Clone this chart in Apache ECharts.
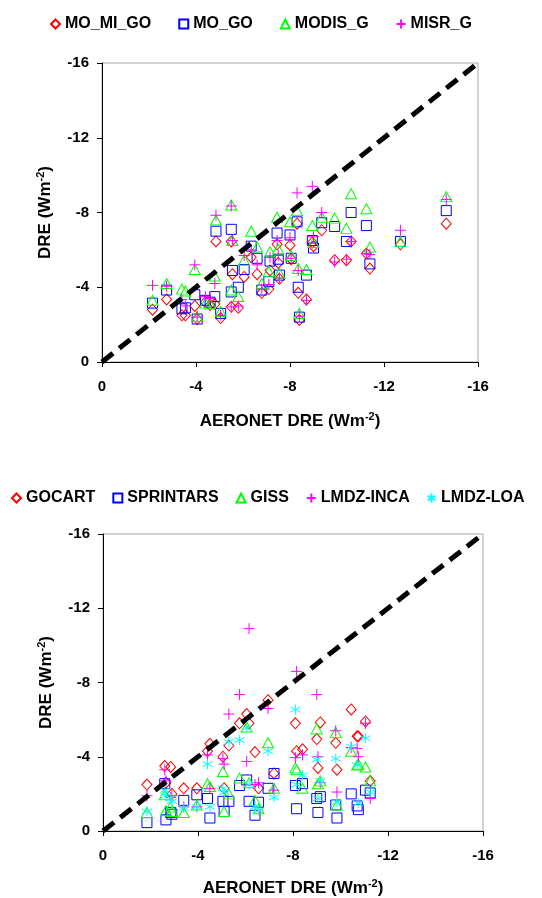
<!DOCTYPE html>
<html>
<head>
<meta charset="utf-8">
<script src="https://cdn.jsdelivr.net/npm/echarts@6/dist/echarts.min.js"></script>
<style>
html,body{margin:0;padding:0;background:#fff;}
#c{width:542px;height:898px;}
</style>
</head>
<body>
<div id="c"></div>
<script>
// ---------- data ----------
const tickValues = [0, -4, -8, -12, -16];
const diagonal = [0, -16];

// Top panel: AERONET DRE per site and the four satellite-based estimates
const topX     = [-2.15,-2.75,-3.4,-3.55,-3.95,-4.05,-4.4,-4.6,-4.8,-4.85,-5.05,-5.5,-5.55,-5.5,-5.8,-6.05,-6.35,-6.6,-6.8,-7.1,-7.15,-7.45,-7.5,-7.55,-8.0,-8.05,-8.3,-8.35,-8.4,-8.7,-8.95,-9.0,-9.35,-9.9,-10.4,-10.6,-11.25,-11.4,-12.7,-14.65];
const moMiGo   = [-2.8,-3.35,-2.5,-2.5,-3.0,-2.3,-3.2,-3.05,-3.1,-6.45,-2.35,-6.45,-4.7,-2.95,-2.9,-4.55,-5.6,-4.7,-3.7,-3.9,-4.9,-6.3,-5.3,-4.45,-6.25,-5.5,-7.4,-3.7,-2.25,-3.35,-6.4,-6.2,-7.05,-5.45,-5.45,-6.45,-5.8,-5.0,-6.3,-7.4];
const moGo     = [-3.15,-3.85,-2.85,-2.9,-3.6,-2.3,-3.3,-3.2,-3.5,-7.0,-2.6,-7.1,-4.9,-3.75,-4.0,-4.95,-6.2,-5.55,-3.85,-4.3,-5.4,-6.9,-5.5,-4.65,-6.8,-5.55,-7.5,-4.0,-2.4,-4.65,-6.5,-6.1,-7.45,-7.25,-6.45,-8.0,-7.3,-5.25,-6.45,-8.1];
const modisG   = [-3.3,-4.2,-3.9,-3.8,-4.95,-2.45,-3.15,-3.1,-4.6,-7.6,-2.7,-8.4,-6.5,-3.85,-3.5,-5.45,-7.0,-6.15,-4.2,-4.85,-5.9,-7.75,-6.05,-4.75,-7.5,-5.7,-8.1,-5.0,-2.6,-4.95,-7.3,-6.4,-7.75,-7.7,-7.15,-9.0,-8.2,-6.15,-6.45,-8.85];
const misrG    = [-4.1,-4.05,-3.35,-3.0,-5.2,-2.4,-3.5,-3.4,-4.2,-7.85,-2.5,-8.35,-6.5,-2.95,-3.0,-5.7,-6.0,-5.2,-3.9,-4.15,-5.6,-6.5,-5.7,-4.5,-6.65,-5.55,-9.05,-4.9,-2.45,-3.3,-9.4,-6.7,-8.0,-5.35,-5.5,-6.45,-5.8,-5.75,-7.05,-8.7];

// Bottom panel: AERONET DRE per site and the five model estimates
const botX     = [-1.85,-2.6,-2.65,-2.85,-2.9,-3.4,-3.95,-4.4,-4.5,-5.05,-5.1,-5.3,-5.75,-6.05,-6.15,-6.4,-6.55,-6.95,-7.2,-8.1,-8.15,-8.4,-9.0,-9.05,-9.15,-9.8,-9.85,-10.45,-10.7,-10.75,-11.05,-11.25];
const gocart   = [-2.5,-3.5,-2.6,-3.45,-2.0,-2.3,-2.3,-4.3,-4.7,-4.0,-2.3,-4.6,-5.8,-6.3,-5.8,-4.25,-2.3,-7.05,-3.1,-5.8,-4.3,-4.4,-4.95,-3.4,-5.85,-4.75,-3.3,-6.55,-5.1,-5.1,-5.9,-2.7];
const sprintars= [-0.45,-2.55,-0.6,-1.0,-0.9,-1.65,-1.95,-1.75,-0.7,-1.6,-1.05,-1.6,-2.45,-2.75,-1.6,-0.85,-1.55,-2.3,-3.1,-2.45,-1.2,-2.55,-1.75,-1.0,-1.85,-1.4,-0.7,-2.0,-1.35,-1.15,-2.2,-2.05];
const giss     = [-1.0,-1.95,-1.1,-1.3,-1.05,-1.0,-1.4,-2.55,-2.4,-3.2,-1.05,-2.0,-2.85,-5.6,-2.6,-1.65,-1.2,-4.75,-2.3,-3.4,-3.3,-2.3,-5.5,-2.55,-2.7,-5.3,-1.4,-4.3,-3.55,-3.6,-3.45,-2.7];
const lmdzInca = [-1.9,-3.3,-2.7,-1.8,-1.9,-1.3,-1.3,-4.1,-2.3,-3.9,-3.6,-6.3,-7.35,-3.75,-10.9,-2.5,-2.6,-6.6,-2.2,-3.95,-8.6,-4.1,-7.35,-4.0,-2.6,-5.4,-2.1,-4.5,-4.45,-4.0,-5.8,-1.75];
const lmdzLoa  = [-1.05,-2.2,-1.9,-1.75,-1.6,-1.25,-1.3,-3.6,-1.3,-2.3,-2.1,-4.8,-4.9,-5.55,-2.5,-1.3,-1.1,-4.3,-1.8,-6.55,-2.5,-3.0,-3.85,-1.75,-2.7,-3.9,-1.55,-4.55,-3.55,-1.5,-5.0,-2.1];

const topSeries = [
  {name:'MO_MI_GO', vals: moMiGo, sym:'diamond', size:[10,11], color:'#ff0000'},
  {name:'MO_GO', vals: moGo, sym:'rect', size:[10,10], color:'#0000ff'},
  {name:'MODIS_G', vals: modisG, sym:'triangle', size:[11,10], color:'#00ff00'},
  {name:'MISR_G', vals: misrG, sym:'path://M5,0L5,10M0,5L10,5', size:[11,11], color:'#ff00ff'}
];
const botSeries = [
  {name:'GOCART', vals: gocart, sym:'diamond', size:[10,11], color:'#ff0000'},
  {name:'SPRINTARS', vals: sprintars, sym:'rect', size:[10,10], color:'#0000ff'},
  {name:'GISS', vals: giss, sym:'triangle', size:[11,10], color:'#00ff00'},
  {name:'LMDZ-INCA', vals: lmdzInca, sym:'path://M5,0L5,10M0,5L10,5', size:[11,11], color:'#ff00ff'},
  {name:'LMDZ-LOA', vals: lmdzLoa, sym:'path://M5,0L5,10M0.7,2.5L9.3,7.5M0.7,7.5L9.3,2.5', size:[10,10], color:'#00ffff'}
];

// ---------- chart ----------
const FONT = '"Liberation Sans", Arial, sans-serif';
const tmin = Math.min(...tickValues), tmax = Math.max(...tickValues);
const tint = Math.abs(tickValues[1] - tickValues[0]);

function nameRich() {
  return {
    n: {fontSize: 17, fontWeight: 'bold', fontFamily: FONT, color: '#000', lineHeight: 20},
    s: {fontSize: 11, fontWeight: 'bold', fontFamily: FONT, color: '#000', lineHeight: 12, verticalAlign: 'top'}
  };
}
function xAxis(gi, gap) {
  return {
    gridIndex: gi, type: 'value', min: tmin, max: tmax, interval: tint, inverse: true,
    splitLine: {show: false},
    axisLine: {show: true, onZero: false, lineStyle: {color: '#000', width: 1}},
    axisTick: {show: true, length: 5, lineStyle: {color: '#000'}},
    axisLabel: {fontSize: 15, fontWeight: 'bold', fontFamily: FONT, color: '#000', margin: 17},
    name: '{n|AERONET DRE (Wm}{s|-2}{n|)}', nameLocation: 'middle', nameGap: gap,
    nameTextStyle: {rich: nameRich()}
  };
}
function yAxis(gi) {
  return {
    gridIndex: gi, type: 'value', min: tmin, max: tmax, interval: tint, inverse: true,
    splitLine: {show: false},
    axisLine: {show: true, onZero: false, lineStyle: {color: '#000', width: 1}},
    axisTick: {show: true, length: 5, lineStyle: {color: '#000'}},
    axisLabel: {fontSize: 15, fontWeight: 'bold', fontFamily: FONT, color: '#000', margin: 13},
    name: '{n|DRE (Wm}{s|-2}{n|)}', nameLocation: 'middle', nameGap: 47, nameRotate: 90,
    nameTextStyle: {rich: nameRich()}
  };
}
function scatter(def, xs, gi) {
  return {
    type: 'scatter', name: def.name, xAxisIndex: gi, yAxisIndex: gi,
    symbol: def.sym, symbolSize: def.size,
    itemStyle: {color: 'rgba(0,0,0,0)', borderColor: def.color, borderWidth: 1, opacity: 1},
    emphasis: {disabled: true},
    data: xs.map((x, i) => [x, def.vals[i]])
  };
}
function diag(gi) {
  return {
    type: 'line', xAxisIndex: gi, yAxisIndex: gi, symbol: 'none', silent: true, z: 5,
    lineStyle: {color: '#000', width: 5, type: [14, 8]},
    data: diagonal.map(v => [v, v])
  };
}

const series = [];
topSeries.forEach(d => series.push(scatter(d, topX, 0)));
botSeries.forEach(d => series.push(scatter(d, botX, 1)));
series.push(diag(0));
series.push(diag(1));

const legendText = {fontSize: 16, fontWeight: 'bold', fontFamily: FONT, color: '#000'};
const option = {
  animation: false,
  backgroundColor: '#fff',
  legend: [
    {data: topSeries.map(d => d.name), left: 45, top: 11, itemWidth: 9, itemHeight: 9, itemGap: 27, textStyle: legendText},
    {data: botSeries.map(d => d.name), left: 6, top: 485, itemWidth: 9, itemHeight: 9, itemGap: 17, textStyle: legendText}
  ],
  grid: [
    {left: 102, top: 63, width: 376, height: 299, show: true, borderColor: '#a6a6a6', borderWidth: 1, backgroundColor: 'transparent'},
    {left: 103, top: 534, width: 380, height: 297, show: true, borderColor: '#a6a6a6', borderWidth: 1, backgroundColor: 'transparent'}
  ],
  xAxis: [xAxis(0, 49), xAxis(1, 47)],
  yAxis: [yAxis(0), yAxis(1)],
  series: series
};
const chart = echarts.init(document.getElementById('c'), null, {renderer: 'canvas'});
chart.setOption(option);
</script>
</body>
</html>
